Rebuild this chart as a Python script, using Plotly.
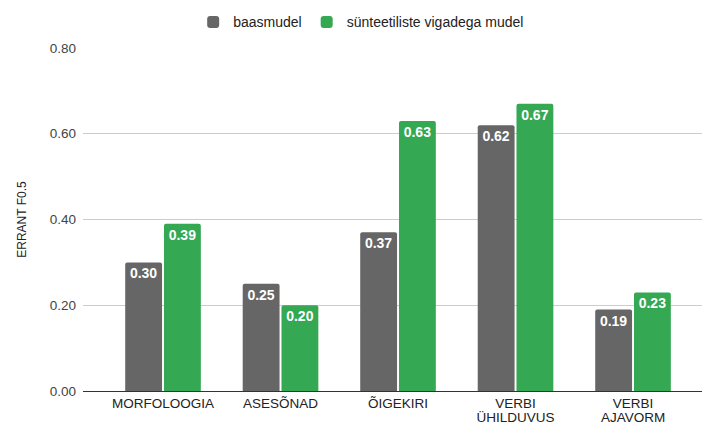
import plotly.graph_objects as go

categories = ["MORFOLOOGIA", "ASESÕNAD", "ÕIGEKIRI", "VERBI<br>ÜHILDUVUS", "VERBI<br>AJAVORM"]
baasmudel = [0.30, 0.25, 0.37, 0.62, 0.19]
synteetiline = [0.39, 0.20, 0.63, 0.67, 0.23]
y_ticks = [0.0, 0.2, 0.4, 0.6, 0.8]

FONT = "Arial, 'Liberation Sans', sans-serif"

# category labels: the base tick font sets the (tight) line spacing,
# the span sets the visible glyph size
x_ticktext = [
    "<br>".join(f"<span style='font-size:13.5px'>{part}</span>" for part in c.split("<br>"))
    for c in categories
]

fig = go.Figure()
for name, vals, color in [
    ("baasmudel", baasmudel, "#666666"),
    ("sünteetiliste vigadega mudel", synteetiline, "#34a853"),
]:
    fig.add_trace(go.Bar(
        name=name,
        x=list(range(len(categories))),
        y=vals,
        marker=dict(color=color, line=dict(width=0)),
        text=[f"{v:.2f}" for v in vals],
        textposition="inside",
        insidetextanchor="end",
        textangle=0,
        textfont=dict(family=FONT, size=14, color="white", weight="bold"),
        hoverinfo="skip",
    ))

fig.update_layout(
    width=702, height=425,
    margin=dict(l=83, r=0, t=48, b=34),
    paper_bgcolor="white", plot_bgcolor="white",
    barmode="group", bargap=0.34, bargroupgap=0.05,
    barcornerradius=2,
    font=dict(family=FONT, size=13, color="#444444"),
    showlegend=True,
    legend=dict(
        orientation="h", x=0.178, xanchor="left", xref="paper",
        y=0.985, yref="container", yanchor="top",
        font=dict(size=14, color="#222222"),
        itemwidth=30, traceorder="normal",
    ),
    uniformtext=dict(mode=False),
)

fig.update_xaxes(
    range=[-0.681, 4.587],
    tickmode="array", tickvals=list(range(len(categories))), ticktext=x_ticktext,
    tickfont=dict(size=10.8, color="#222222"),
    showgrid=False, zeroline=False, showline=False, ticks="",
    ticklabelstandoff=5,
    automargin=False,
)
fig.update_yaxes(
    range=[0, 0.8],
    tickvals=y_ticks, ticktext=[f"{t:.2f}" for t in y_ticks],
    tickfont=dict(size=13.5, color="#444444"),
    showgrid=True, gridcolor="#cccccc", gridwidth=1,
    zeroline=True, zerolinecolor="#333333", zerolinewidth=1,
    ticks="", ticklabelstandoff=6,
    title=dict(text="ERRANT F0.5", font=dict(size=12, color="#222222"), standoff=20),
    automargin=False,
)

fig.write_html("out.html")
